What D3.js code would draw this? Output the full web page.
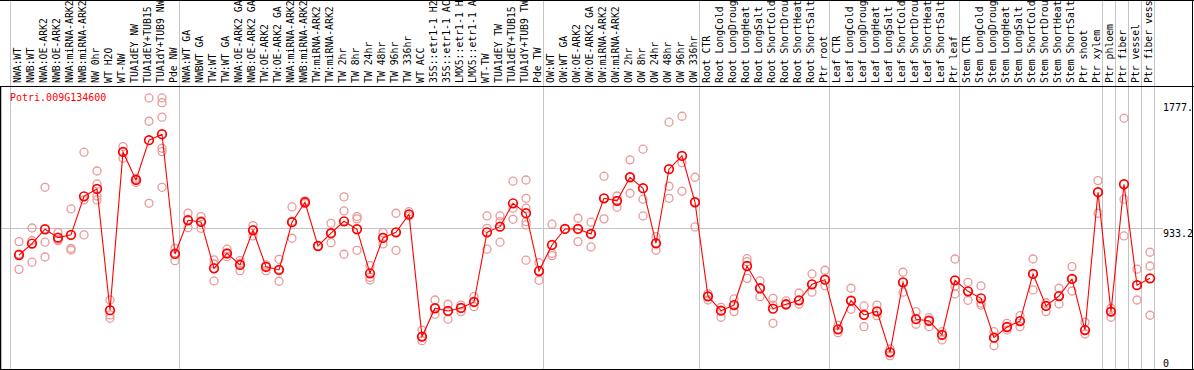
<!DOCTYPE html>
<html>
<head>
<meta charset="utf-8">
<script src="https://cdn.jsdelivr.net/npm/d3@7"></script>
<style>
  body { margin: 0; background: #fff; }
  text { font-family: "DejaVu Sans Mono", monospace; font-size: 10px; }
  text.lbl { font-size: 9.8px; }
</style>
</head>
<body>
<div id="chart"></div>
<script>
// sample labels (columns, left to right)
const sampleLabels = [
  'NWA:WT', 'NWB:WT', 'NWA:OE-ARK2', 'NWB:OE-ARK2', 'NWA:miRNA-ARK2', 'NWB:miRNA-ARK2',
  'NW 0hr', 'WT H2O', 'WT-NW', 'TUA1dEY NW', 'TUA1dEY+TUB15 NW', 'TUA1dY+TUB9 NW', 'Pde NW',
  'NWA:WT GA', 'NWBWT GA', 'TW:WT', 'TW:WT GA', 'NWA:OE-ARK2 GA', 'NWB:OE-ARK2 GA',
  'TW:OE-ARK2', 'TW:OE-ARK2 GA', 'NWA:miRNA-ARK2 GA', 'NWB:miRNA-ARK2 GA', 'TW:miRNA-ARK2',
  'TW:miRNA-ARK2 GA', 'TW 2hr', 'TW 8hr', 'TW 24hr', 'TW 48hr', 'TW 96hr', 'TW 336hr',
  'WT ACC', '35S::etr1-1 H2O', '35S::etr1-1 ACC', 'LMX5::etr1-1 H2O', 'LMX5::etr1-1 ACC',
  'WT-TW', 'TUA1dEY TW', 'TUA1dEY+TUB15 TW', 'TUA1dY+TUB9 TW', 'Pde TW',
  'OW:WT', 'OW:WT GA', 'OW:OE-ARK2', 'OW:OE-ARK2 GA', 'OW:miRNA-ARK2', 'OW:miRNA-ARK2 GA',
  'OW 2hr', 'OW 8hr', 'OW 24hr', 'OW 48hr', 'OW 96hr', 'OW 336hr',
  'Root CTR', 'Root LongCold', 'Root LongDrought', 'Root LongHeat', 'Root LongSalt',
  'Root ShortCold', 'Root ShortDrought', 'Root ShortHeat', 'Root ShortSalt', 'Ptr root',
  'Leaf CTR', 'Leaf LongCold', 'Leaf LongDrought', 'Leaf LongHeat', 'Leaf LongSalt',
  'Leaf ShortCold', 'Leaf ShortDrought', 'Leaf ShortHeat', 'Leaf ShortSalt', 'Ptr leaf',
  'Stem CTR', 'Stem LongCold', 'Stem LongDrought', 'Stem LongHeat', 'Stem LongSalt',
  'Stem ShortCold', 'Stem ShortDrought', 'Stem ShortHeat', 'Stem ShortSalt', 'Ptr shoot',
  'Ptr xylem', 'Ptr phloem', 'Ptr fiber', 'Ptr vessel', 'Ptr fiber vessel'
];

// mean expression per sample
const meanValues = [
  754, 829, 923, 868, 886, 1139, 1187, 392, 1430, 1246, 1507, 1546, 761,
  982, 971, 667, 765, 689, 916, 676, 656, 969, 1100, 813, 897, 975, 923, 634, 866, 903, 1021,
  219, 405, 387, 407, 446, 903, 940, 1093, 1028, 649,
  820, 925, 925, 892, 1126, 1109, 1264, 1192, 831, 1317, 1404, 1100,
  483, 389, 426, 682, 536, 402, 431, 457, 562, 592,
  267, 455, 361, 385, 116, 575, 333, 323, 230, 588,
  516, 470, 212, 282, 321, 630, 420, 485, 597, 262,
  1166, 383, 1218, 556, 601
];

// individual replicates per sample
const replicateValues = [
  [842, 760, 660], [931, 849, 707], [1198, 838, 741], [901, 855, 848], [1056, 798, 787],
  [1428, 1115, 886], [1305, 1220, 1141, 1115], [459, 361, 339], [1465, 1430, 1389],
  [1257, 1250, 1229], [1784, 1631, 1093], [1784, 1753, 1658, 1454, 1432, 1198], [798, 768, 717],
  [1028, 985, 933], [1006, 978, 929], [722, 695, 584], [792, 760, 743], [717, 700, 651],
  [947, 920, 879], [689, 680, 651], [726, 660, 582], [1069, 975, 864], [1109, 1100, 1091],
  [813], [962, 895, 835], [1135, 1043, 759], [1006, 991, 785], [684, 608, 590],
  [901, 870, 827], [1028, 903, 785], [1038, 1021, 1010],
  [262, 219, 192], [459, 405, 365], [431, 387, 333], [426, 407, 383], [481, 446, 415],
  [1010, 929, 792], [1010, 973, 838], [1238, 1061, 988], [1246, 1126, 1061, 973, 951, 720],
  [704, 649, 588],
  [956, 765, 750], [925], [995, 925, 842], [969, 892, 807], [1271, 1126, 991], [1141, 1109, 1067],
  [1378, 1264, 1159], [1448, 1120, 1010], [874, 831, 785], [1625, 1205, 1126],
  [1664, 1360, 1172], [1264, 1100, 938],
  [499, 483, 459], [411, 389, 346], [466, 426, 383], [730, 710, 601], [584, 536, 481],
  [470, 426, 306], [453, 431, 426], [505, 457, 431], [630, 562, 510], [654, 592, 553],
  [293, 267, 245], [536, 455, 398], [420, 361, 284], [426, 385, 356], [138, 116, 94],
  [641, 575, 510], [383, 333, 300], [343, 323, 284], [251, 230, 197], [728, 547, 499],
  [575, 516, 457], [551, 438, 426], [251, 212, 159], [306, 282, 262], [356, 321, 284],
  [728, 630, 525], [441, 420, 383], [536, 485, 433], [678, 597, 518], [313, 262, 236],
  [1242, 1166, 1028], [405, 383, 346], [1651, 1120, 879], [661, 556, 459], [772, 682, 359]
];

// column boundaries where a gray separator is drawn
const separatorAfter = [0, 13, 41, 53, 63, 73, 84, 85, 86, 87, 88];

const axisValues = [1777, 933.2, 0];
const axisLabels = ['1777.', '933.2', '0'];
const midValue = 933.2;
const geneId = 'Potri.009G134600';

const width = 1194;
const height = 370;
const headerBottom = 86;
const maxLabelChars = 14; // header only has room for this many

const svg = d3.select('#chart')
  .append('svg')
  .attr('width', width)
  .attr('height', height)
  .style('display', 'block');

const x = d3.scaleBand()
  .domain(sampleLabels)
  .range([11, 11 + 13 * sampleLabels.length]);

const y = d3.scaleLinear()
  .domain([0, 1777])
  .range([370, 99]);

const px = d => x(d) + 8;

// horizontal gray line at reference value
svg.append('line')
  .attr('x1', 0).attr('x2', 1163)
  .attr('y1', Math.round(y(midValue)) + 0.5)
  .attr('y2', Math.round(y(midValue)) + 0.5)
  .style('stroke', '#c4c4c4');

// vertical separators
svg.selectAll('.sep')
  .data(separatorAfter)
  .enter()
  .append('line')
  .attr('class', 'sep')
  .attr('x1', d => 11 + 13 * d - 0.5)
  .attr('x2', d => 11 + 13 * d - 0.5)
  .attr('y1', 0)
  .attr('y2', height)
  .style('stroke', '#c4c4c4');

// frame
svg.append('line').attr('x1', 0).attr('x2', width).attr('y1', 0.5).attr('y2', 0.5).style('stroke', '#000');
svg.append('line').attr('x1', 0).attr('x2', width).attr('y1', headerBottom + 0.5).attr('y2', headerBottom + 0.5).style('stroke', '#000');
svg.append('line').attr('x1', 0).attr('x2', width).attr('y1', height - 0.5).attr('y2', height - 0.5).style('stroke', '#000');
svg.append('line').attr('x1', 0.5).attr('x2', 0.5).attr('y1', headerBottom).attr('y2', height).style('stroke', '#000').style('stroke-width', 1.5);
svg.append('line').attr('x1', width - 1.5).attr('x2', width - 1.5).attr('y1', 0).attr('y2', height).style('stroke', '#000');

// rotated sample labels (cut to the header height, as in the original)
svg.selectAll('.lbl')
  .data(sampleLabels)
  .enter()
  .append('text')
  .attr('class', 'lbl')
  .attr('transform', d => `translate(${x(d) + 10},83) rotate(-90)`)
  .style('fill', '#000')
  .text(d => d.slice(0, maxLabelChars).trimEnd());

// gene id
svg.append('text')
  .attr('x', 10)
  .attr('y', 101)
  .style('fill', '#ff0000')
  .text(geneId);

// value labels on right
svg.selectAll('.vlab')
  .data(axisValues)
  .enter()
  .append('text')
  .attr('class', 'vlab')
  .attr('x', 1163)
  .attr('y', d => Math.max(103, Math.min(359, y(d) + 1.5)) + 7.5)
  .style('fill', '#000')
  .text((d, i) => axisLabels[i]);

// replicate circles
const reps = [];
replicateValues.forEach((arr, i) => arr.forEach(v => reps.push({ s: sampleLabels[i], v: v })));

svg.append('g')
  .selectAll('circle')
  .data(reps)
  .enter()
  .append('circle')
  .attr('cx', d => px(d.s))
  .attr('cy', d => y(d.v))
  .attr('r', 4)
  .style('fill', 'none')
  .style('stroke', '#eb9898')
  .style('stroke-width', 1.3);

// mean line
const line = d3.line()
  .x((d, i) => px(sampleLabels[i]))
  .y(d => y(d));

svg.append('path')
  .datum(meanValues)
  .attr('d', line)
  .style('fill', 'none')
  .style('stroke', '#ff0000')
  .style('stroke-width', 1.1);

// mean circles
svg.append('g')
  .selectAll('circle')
  .data(meanValues)
  .enter()
  .append('circle')
  .attr('cx', (d, i) => px(sampleLabels[i]))
  .attr('cy', d => y(d))
  .attr('r', 4.3)
  .style('fill', 'none')
  .style('stroke', '#ff0000')
  .style('stroke-width', 1.7);
</script>
</body>
</html>
